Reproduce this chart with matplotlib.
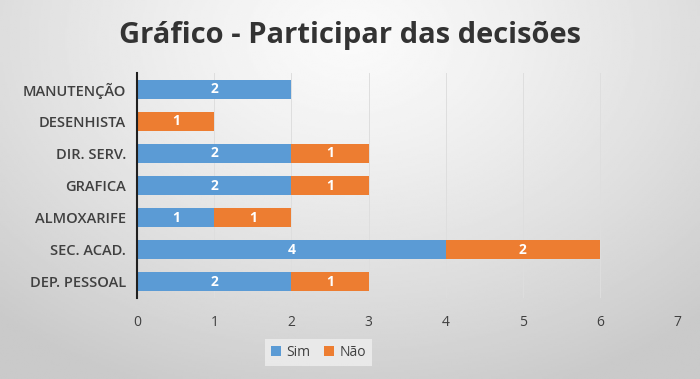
import numpy as np
import matplotlib.pyplot as plt

categorias = ["MANUTENÇÃO", "DESENHISTA", "DIR. SERV.", "GRAFICA",
              "ALMOXARIFE", "SEC. ACAD.", "DEP. PESSOAL"]
sim = [2, 0, 2, 2, 1, 4, 2]
nao = [0, 1, 1, 1, 1, 2, 1]
xticks = [0, 1, 2, 3, 4, 5, 6, 7]

plt.rcParams['font.family'] = ['Open Sans', 'DejaVu Sans']

fig = plt.figure(figsize=(7, 3.79), dpi=100)

# gradient background
bg = fig.add_axes([0, 0, 1, 1], zorder=-10)
yy, xx = np.mgrid[0:1:200j, 0:1:370j]
r = np.sqrt(((xx - 0.5) / 0.75) ** 2 + ((yy - 0.1) / 1.0) ** 2)
bg.imshow(0.98 - 0.19 * np.clip(r, 0, 1) ** 1.3, cmap='gray', vmin=0, vmax=1,
          aspect='auto', extent=[0, 1, 1, 0])
bg.axis('off')

ax = fig.add_axes([0.196, 0.214, 0.771, 0.593])
ax.patch.set_alpha(0)

y = np.arange(len(categorias))
azul, laranja = "#5B9BD5", "#ED7D31"
b1 = ax.barh(y, sim, height=0.6, color=azul, label="Sim")
b2 = ax.barh(y, nao, left=sim, height=0.6, color=laranja, label="Não")

for bars, vals in ((b1, sim), (b2, nao)):
    for bar, v in zip(bars, vals):
        if v:
            ax.text(bar.get_x() + bar.get_width() / 2, bar.get_y() + bar.get_height() / 2,
                    str(v), ha='center', va='center', color='white',
                    fontsize=10, fontweight='bold')

ax.set_ylim(len(categorias) - 0.5, -0.5)
ax.set_xlim(0, 7)
ax.set_xticks(xticks)
ax.set_yticks(y)
ax.set_yticklabels(categorias, fontsize=10.5, color='#404040', fontweight='semibold')
ax.tick_params(axis='x', labelsize=10, labelcolor='#404040', length=0, pad=12)
ax.tick_params(axis='y', length=0, pad=8)
ax.grid(axis='x', color='#dedede', linewidth=0.7)
ax.set_axisbelow(True)
for s in ('top', 'right', 'bottom'):
    ax.spines[s].set_visible(False)
ax.spines['left'].set_color('#202020')
ax.spines['left'].set_linewidth(1.5)

fig.suptitle("Gráfico - Participar das decisões", y=0.945, fontsize=21,
             fontweight='bold', color='#333333')

leg = fig.legend(loc='center', bbox_to_anchor=(0.455, 0.07), ncol=2, frameon=True,
                 fontsize=10, handlelength=0.7, handleheight=0.7, handletextpad=0.4,
                 columnspacing=1.0, fancybox=False, edgecolor='none')
leg.get_frame().set_facecolor('#efefef')
for t in leg.get_texts():
    t.set_color('#404040')

fig.savefig("out.png", dpi=100)
